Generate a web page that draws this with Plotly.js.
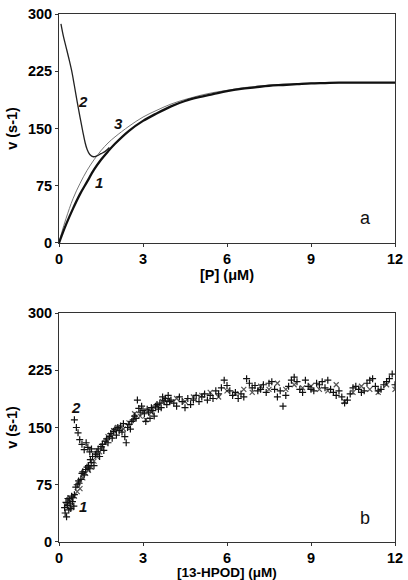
<!DOCTYPE html>
<html><head><meta charset="utf-8">
<script src="https://cdn.plot.ly/plotly-3.0.1.min.js"></script>
<style>html,body{margin:0;padding:0;background:#fff}#chart{width:408px;height:580px}</style>
</head><body><div id="chart"></div>
<script>
// Panel a: curves
const curve1X = [0,0.1,0.25,0.5,0.75,1,1.25,1.5,1.75,2,2.5,3,3.5,4,4.5,5,5.5,6,6.5,7,7.5,8,8.5,9,9.5,10,10.5,11,11.5,12];
const curve1Y = [0,10,24,45,64,80,96,109,120,130,147,160,170,179,186,191,195,199,202,204,206,207,208,209,209.5,210,210,210,210,210];
const curve3X = [0,0.1,0.25,0.5,0.75,1,1.25,1.5,1.75,2,2.5,3,3.5,4,4.5,5,5.5,6,6.5,7,8,9,10,11,12];
const curve3Y = [0,14,32,58,78,95,109,121,131,139,153,165,174,182,188,193,197,200,203,205,208,209.5,210,210,210];
const curve2X = [0.07,0.15,0.25,0.35,0.45,0.55,0.65,0.75,0.85,0.93,1.0,1.1,1.23,1.35,1.5,1.65,1.8];
const curve2Y = [287,272,257,242,226,206,185,165,146,132,123,116,113,114,117,120,125];

// Panel b: measured points
const pts1X = [0.20,0.22,0.25,0.27,0.30,0.32,0.35,0.37,0.40,0.42,0.45,0.48,0.50,0.53,0.55,
  0.60,0.65,0.70,0.72,0.78,0.82,0.85,0.90,0.95,1.00,
  1.05,1.10,1.12,1.15,1.20,1.25,1.30,1.35,1.40,1.45,1.50,1.55,1.60,1.65,1.70,1.75,1.80,1.85,1.90,1.95,2.00,
  2.05,2.10,2.15,2.20,2.25,2.30,2.35,2.40,2.45,2.50,2.55,2.60,2.65,2.70,2.75,2.80,2.85,2.90,2.95,3.00,
  3.05,3.10,3.15,3.20,3.25,3.30,3.35,3.40,3.45,3.50,3.55,3.60,3.65,3.70,3.75,3.80,3.85,3.90,3.95,4.00,
  4.1,4.2,4.3,4.4,4.5,4.6,4.7,4.8,4.9,5.0,5.1,5.2,5.3,5.4,5.5,5.6,5.7,5.8,5.9,6.0,
  6.1,6.2,6.3,6.4,6.5,6.6,6.7,6.8,6.9,7.0,7.1,7.2,7.3,7.4,7.5,7.6,7.7,7.8,7.9,8.0,
  8.1,8.2,8.3,8.4,8.5,8.6,8.7,8.8,8.9,9.0,9.1,9.2,9.3,9.4,9.5,9.6,9.7,9.8,9.9,10.0,
  10.1,10.2,10.3,10.4,10.5,10.6,10.7,10.8,10.9,11.0,11.1,11.2,11.3,11.4,11.5,11.6,11.7,11.8,11.9,12.0];
const pts1Y = [45,38,52,33,48,57,42,55,50,44,60,53,58,47,62,
  72,75,80,77,82,90,92,88,95,98,
  100,96,108,104,112,100,115,118,122,112,125,128,120,132,135,130,138,142,136,145,148,
  140,150,146,152,144,155,138,130,150,154,148,158,160,165,162,186,175,170,178,172,
  168,158,174,170,162,176,172,165,178,180,174,182,176,190,185,188,180,192,184,186,
  182,178,190,184,176,188,180,186,192,184,190,194,186,192,188,198,194,202,212,205,
  198,192,196,188,194,190,214,208,202,205,198,200,206,196,208,210,200,190,198,178,
  192,204,212,216,210,200,196,212,204,200,198,208,206,210,202,212,200,196,192,198,
  190,182,186,194,202,204,200,196,198,208,212,214,204,198,200,206,210,214,220,206];
const pts3X = [0.25,0.35,0.45,0.55,0.65,0.75,0.85,0.95,1.05,1.15,1.25,1.35,1.45,1.55,1.65,1.75,1.85,1.95,2.1,2.3,2.5,2.7,2.9,3.1,3.3,3.5,3.7,3.9,4.2,4.5,4.8,5.1,5.4,5.7,6.0,6.3,6.6,6.9,7.2,7.5,7.8,8.1,8.4,8.7,9.0,9.3,9.6,9.9,10.2,10.5,10.8,11.1,11.4,11.7,12.0];
const pts3Y = [48,55,45,60,66,70,84,90,94,98,106,112,118,122,130,138,140,146,150,148,156,168,165,160,170,178,184,186,188,184,190,192,196,190,198,194,200,196,204,200,208,200,206,202,204,200,198,206,184,196,204,200,196,206,200];
const pts2X = [0.55,0.62,0.68,0.74,0.82,0.9,0.97,1.03,1.1,1.16];
const pts2Y = [160,150,143,134,128,121,130,124,118,122];

const xTicks = [0,3,6,9,12];
const yTicks = [0,75,150,225,300];

const FAM = '"Liberation Sans", Arial, sans-serif';
const tickFont = {family:FAM, size:14.5, color:'#000', weight:'bold'};
const titleFont = {family:FAM, size:14.5, color:'#000', weight:'bold'};
const bottomTitleFont = {family:FAM, size:13.5, color:'#000', weight:'bold'};

function xa(title, anchor, standoff){
  return {range:[0,12], tickvals:xTicks, ticktext:xTicks.map(String), showgrid:false, zeroline:false,
    showline:true, mirror:true, linecolor:'#333', linewidth:1, ticks:'outside', ticklen:3, tickcolor:'#333',
    tickfont:tickFont, anchor:anchor, automargin:false, title:{text:title, font:titleFont, standoff:standoff}};
}
function ya(dom, anchor){
  return {range:[0,300], domain:dom, tickvals:yTicks, ticktext:yTicks.map(String), showgrid:false, zeroline:false,
    showline:true, mirror:true, linecolor:'#333', linewidth:1, ticks:'outside', ticklen:3, tickcolor:'#333',
    tickfont:tickFont, anchor:anchor, automargin:false, title:{text:'v (s-1)', font:titleFont, standoff:6}};
}

const mk = (sym, col) => ({symbol:sym, size:5, color:col, line:{width:1.2, color:col}});

const data = [
  {x:curve3X, y:curve3Y, mode:'lines', line:{color:'#777', width:1, shape:'spline'}, xaxis:'x', yaxis:'y'},
  {x:curve1X, y:curve1Y, mode:'lines', line:{color:'#111', width:2.3, shape:'spline'}, xaxis:'x', yaxis:'y'},
  {x:curve2X, y:curve2Y, mode:'lines', line:{color:'#222', width:1.3, shape:'spline'}, xaxis:'x', yaxis:'y'},
  {x:pts3X, y:pts3Y, mode:'markers', marker:mk('x-thin','#555'), xaxis:'x2', yaxis:'y2'},
  {x:pts1X, y:pts1Y, mode:'markers', marker:mk('cross-thin','#111'), xaxis:'x2', yaxis:'y2'},
  {x:pts2X, y:pts2Y, mode:'markers', marker:mk('cross-thin','#111'), xaxis:'x2', yaxis:'y2'}
];

const lblFont = {family:FAM, size:15, color:'#111', weight:'bold', style:'italic'};
const panelFont = {family:FAM, size:18, color:'#111'};
const annotations = [
  {x:0.86, y:185, xref:'x', yref:'y', text:'2', showarrow:false, font:lblFont},
  {x:2.14, y:157, xref:'x', yref:'y', text:'3', showarrow:false, font:lblFont},
  {x:1.43, y:79, xref:'x', yref:'y', text:'1', showarrow:false, font:lblFont},
  {x:10.96, y:33, xref:'x', yref:'y', text:'a', showarrow:false, font:panelFont},
  {x:0.6, y:176, xref:'x2', yref:'y2', text:'2', showarrow:false, font:lblFont},
  {x:0.84, y:46, xref:'x2', yref:'y2', text:'1', showarrow:false, font:lblFont},
  {x:10.93, y:31, xref:'x2', yref:'y2', text:'b', showarrow:false, font:panelFont},
  {x:0.5, y:-0.041, xref:'paper', yref:'paper', yanchor:'top', xanchor:'center', borderpad:0, text:'[13-HPOD] (μM)', showarrow:false, font:bottomTitleFont}
];

const layout = {
  width:408, height:580, margin:{l:59, r:13, t:14, b:38},
  paper_bgcolor:'#fff', plot_bgcolor:'#fff', showlegend:false,
  xaxis: xa('[P] (μM)', 'y', 3),
  yaxis: ya([0.5663,1], 'x'),
  xaxis2: xa('', 'y2', 3),
  yaxis2: ya([0,0.4337], 'x2'),
  annotations: annotations
};
Plotly.newPlot('chart', data, layout, {displayModeBar:false, staticPlot:true});
</script></body></html>
